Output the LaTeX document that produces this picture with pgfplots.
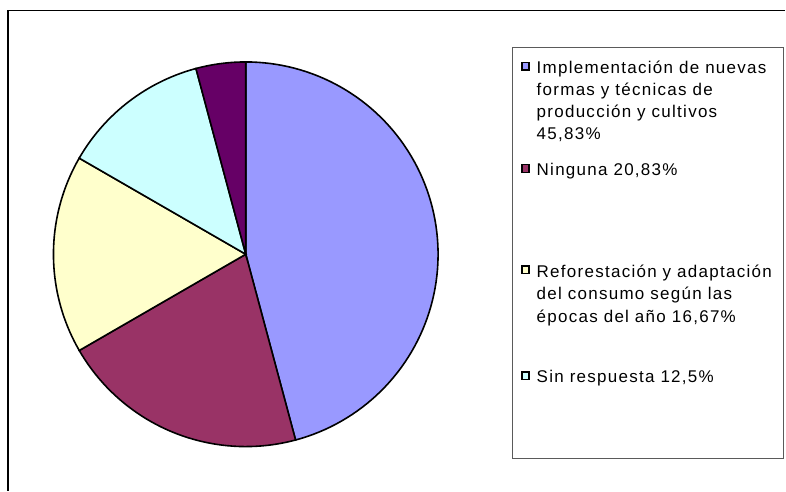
\documentclass[border=0pt]{standalone}
\usepackage{fontspec}
\setmainfont{Liberation Sans}
\newfontfamily\lf[LetterSpace=7.5]{Liberation Sans}
\usepackage{pgfplots}
\pgfplotsset{compat=1.18}
\definecolor{sA}{HTML}{9999FF}
\definecolor{sB}{HTML}{993366}
\definecolor{sC}{HTML}{FFFFCC}
\definecolor{sD}{HTML}{CCFFFF}
\definecolor{sE}{HTML}{660066}
\definecolor{boxC}{HTML}{5A5A5A}

\begin{document}
\begin{tikzpicture}
  \begin{axis}[
    width=786bp, height=491bp, scale only axis,
    xmin=0, xmax=786, ymin=0, ymax=491, y dir=reverse,
    hide axis, clip=false,
  ]
    % pie: cumulative percentages, starting at 12 o'clock, clockwise
    \addplot[fill=sA, draw=black, line width=1.6bp, domain=0:45.83, samples=90, variable=\p]
      ({246+192.5*cos(90-3.6*\p)}, {254.5-192.5*sin(90-3.6*\p)}) -- (246,254.5) -- cycle;
    \addplot[fill=sB, draw=black, line width=1.6bp, domain=45.83:66.66, samples=45, variable=\p]
      ({246+192.5*cos(90-3.6*\p)}, {254.5-192.5*sin(90-3.6*\p)}) -- (246,254.5) -- cycle;
    \addplot[fill=sC, draw=black, line width=1.6bp, domain=66.66:83.33, samples=40, variable=\p]
      ({246+192.5*cos(90-3.6*\p)}, {254.5-192.5*sin(90-3.6*\p)}) -- (246,254.5) -- cycle;
    \addplot[fill=sD, draw=black, line width=1.6bp, domain=83.33:95.83, samples=30, variable=\p]
      ({246+192.5*cos(90-3.6*\p)}, {254.5-192.5*sin(90-3.6*\p)}) -- (246,254.5) -- cycle;
    \addplot[fill=sE, draw=black, line width=1.6bp, domain=95.83:100, samples=15, variable=\p]
      ({246+192.5*cos(90-3.6*\p)}, {254.5-192.5*sin(90-3.6*\p)}) -- (246,254.5) -- cycle;

    % full canvas
    \path (0,0) (786,491);
    % chart frame and legend box
    \draw[black, line width=1.5bp] (8,491) -- (8,10.5) -- (786,10.5);
    \draw[boxC, line width=1.5bp] (513,47.3) rectangle (784.3,459);

    % legend
    \tikzset{lt/.style={anchor=base west, inner sep=0pt,
      font=\lf\fontsize{17bp}{22bp}\selectfont}}
    \draw[black, line width=1.2bp, fill=sA] (522.5,62.3) rectangle (529.5,70);
    \node[lt] at (537,73.3) {Implementación de nuevas};
    \node[lt] at (537,95.6) {formas y técnicas de};
    \node[lt] at (537,117.8) {producción y cultivos};
    \node[lt] at (537,140) {45,83\%};
    \draw[black, line width=1.2bp, fill=sB] (522.5,165) rectangle (529.5,172.7);
    \node[lt] at (537,176) {Ninguna 20,83\%};
    \draw[black, line width=1.2bp, fill=sC] (522.5,266.3) rectangle (529.5,274);
    \node[lt] at (537,277.3) {Reforestación y adaptación};
    \node[lt] at (537,300) {del consumo según las};
    \node[lt] at (537,322.7) {épocas del año 16,67\%};
    \draw[black, line width=1.2bp, fill=sD] (522.5,372.3) rectangle (529.5,380);
    \node[lt] at (537,383.3) {Sin respuesta 12,5\%};
  \end{axis}
\end{tikzpicture}
\end{document}
